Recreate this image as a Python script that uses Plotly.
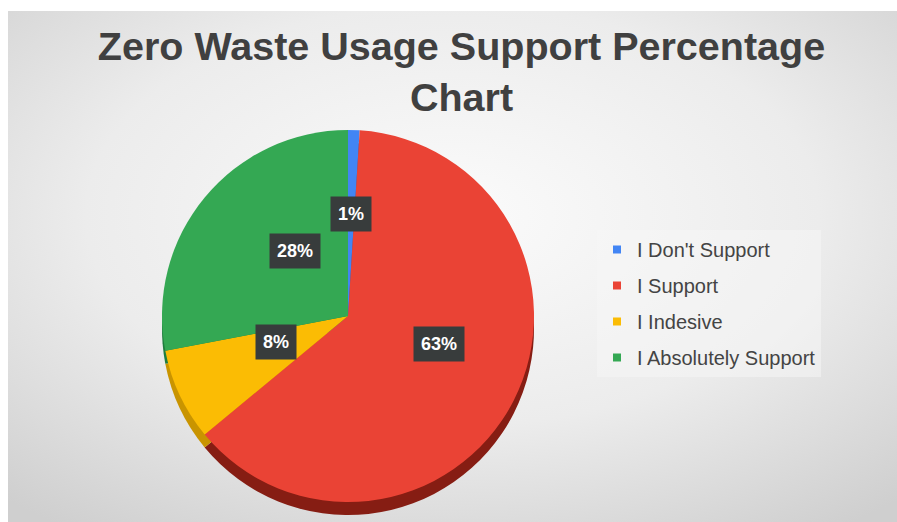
import math
import base64
import plotly.graph_objects as go

# ---- data ----
categories = ["I Don't Support", "I Support", "I Indesive", "I Absolutely Support"]
values = [1, 63, 8, 28]
title_text = "Zero Waste Usage Support Percentage<br>Chart"

# ---- styling ----
face_colors = ["#4285f4", "#ea4335", "#fbbc04", "#34a853"]
side_colors = ["#2d5fb5", "#861d13", "#c99400", "#1f7d3e"]

W, H = 897, 522
CX, CY, R, DEPTH = 348, 316, 186, 13   # pixels from top-left


def px(sx):
    return sx / W


def py(sy):
    return 1 - sy / H


def dom(cx, cy, r):
    return dict(x=[px(cx - r), px(cx + r)], y=[py(cy + r), py(cy - r)])


fig = go.Figure()

# depth (side) of the pie
fig.add_trace(go.Pie(
    labels=categories, values=values, sort=False, direction="clockwise", rotation=0,
    marker=dict(colors=side_colors, line=dict(width=0)),
    domain=dom(CX, CY + DEPTH, R), textinfo="none", showlegend=False, hoverinfo="skip",
))
# top face
fig.add_trace(go.Pie(
    labels=categories, values=values, sort=False, direction="clockwise", rotation=0,
    marker=dict(colors=face_colors, line=dict(width=0)),
    domain=dom(CX, CY, R), textinfo="none", showlegend=False,
))

# legend entries
for name, col in zip(categories, face_colors):
    fig.add_trace(go.Scatter(
        x=[None], y=[None], mode="markers", name=name, legendgroup=name,
        marker=dict(symbol="square", size=8, color=col), showlegend=True,
    ))

# data labels in dark boxes
total = sum(values)
cum = 0
annotations = []
for v in values:
    frac = (cum + v / 2) / total
    th = 2 * math.pi * frac
    k = 0.55
    lx = CX + k * R * math.sin(th)
    ly = CY - k * R * math.cos(th)
    annotations.append(dict(
        x=px(lx), y=py(ly), xref="paper", yref="paper",
        text="<b>%d%%</b>" % round(100 * v / total), showarrow=False,
        font=dict(family="Liberation Sans, Arial, sans-serif", size=18, color="white"),
        bgcolor="#383c3c", borderpad=7,
    ))
    cum += v

# radial gradient background
svg = (
    '<svg xmlns="http://www.w3.org/2000/svg" width="889" height="511" preserveAspectRatio="none">'
    '<defs><radialGradient id="g" cx="50%" cy="40%" r="75%">'
    '<stop offset="0%" stop-color="#fbfbfb"/><stop offset="55%" stop-color="#ececec"/>'
    '<stop offset="100%" stop-color="#cfcfcf"/></radialGradient></defs>'
    '<rect width="889" height="511" fill="url(#g)"/></svg>'
)
src = "data:image/svg+xml;base64," + base64.b64encode(svg.encode()).decode()

fig.update_layout(
    width=W, height=H,
    margin=dict(l=0, r=0, t=0, b=0),
    paper_bgcolor="white", plot_bgcolor="rgba(0,0,0,0)",
    images=[dict(source=src, xref="paper", yref="paper", x=px(8), y=py(11),
                 sizex=1 - px(8), sizey=py(11), xanchor="left", yanchor="top",
                 sizing="stretch", layer="below")],
    title=dict(text="<b>" + title_text + "</b>", x=px(461.5), xanchor="center",
               y=py(60), yanchor="top",
               font=dict(family="Liberation Sans, Arial, sans-serif", size=39.5, color="#404040")),
    xaxis=dict(visible=False), yaxis=dict(visible=False),
    legend=dict(x=px(597), y=py(230), xanchor="left", yanchor="top",
                traceorder="grouped", tracegroupgap=7,
                bgcolor="rgba(246,246,246,0.55)", borderwidth=0,
                font=dict(family="Liberation Sans, Arial, sans-serif", size=20, color="#444444"),
                itemwidth=30),
    annotations=annotations,
    showlegend=True,
)

fig.write_html("out.html", config={"displayModeBar": False},
               post_script="document.body.style.margin='0';document.body.style.overflow='hidden';")
